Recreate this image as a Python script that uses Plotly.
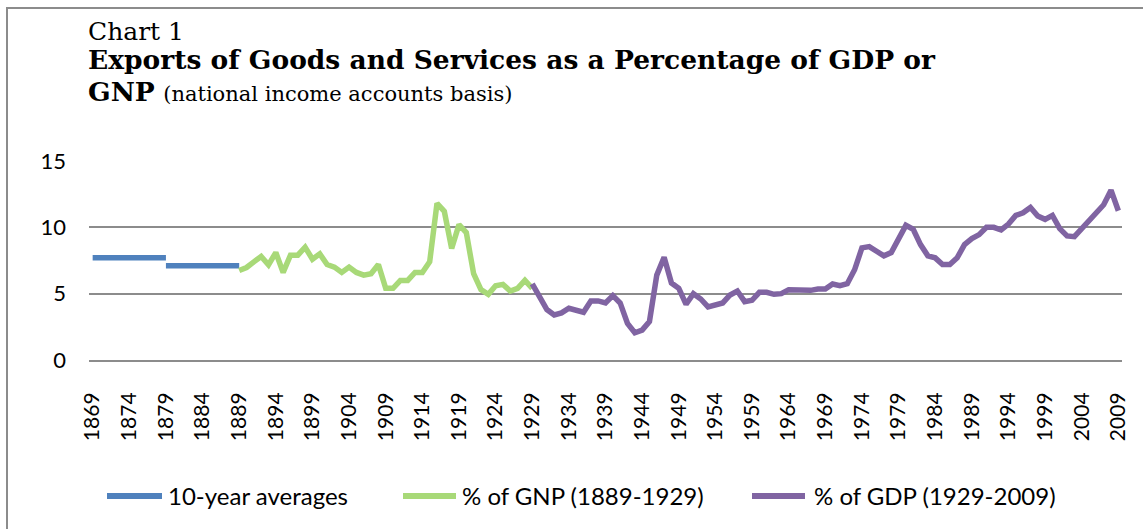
import plotly.graph_objects as go

# ---- data ----
avg_start_years = [1869, 1879]
avg_end_years = [1879, 1889]
avg_values = [7.7, 7.1]

gnp_years = list(range(1889, 1930))
gnp_values = [6.74, 6.97, 7.4, 7.8, 7.17, 8.1, 6.6, 7.9, 7.9, 8.5,
              7.6, 8.0, 7.2, 7.0, 6.6, 7.0, 6.6, 6.4, 6.5, 7.2,
              5.4, 5.4, 6.0, 6.0, 6.6, 6.6, 7.4, 11.8, 11.2, 8.4,
              10.2, 9.6, 6.5, 5.3, 4.95, 5.6, 5.7, 5.2, 5.4, 6.0,
              5.4]

gdp_years = list(range(1929, 2010))
gdp_values = [5.73, 4.8, 3.8, 3.4, 3.55, 3.9, 3.8, 3.6, 4.45, 4.45,
              4.3, 4.85, 4.3, 2.75, 2.05, 2.25, 2.9, 6.4, 7.75, 5.8,
              5.4, 4.2, 5.0, 4.6, 4.0, 4.2, 4.3, 4.9, 5.2, 4.4,
              4.5, 5.1, 5.1, 4.95, 5.0, 5.3, 5.25, 5.25, 5.25, 5.35,
              5.35,
              5.73, 5.6, 5.75, 6.8, 8.45, 8.55, 8.2, 7.85, 8.1, 9.05,
              10.15, 9.85, 8.7, 7.85, 7.7, 7.2, 7.2, 7.7, 8.7, 9.15,
              9.45, 10.0, 10.0, 9.8, 10.25, 10.9, 11.1, 11.5, 10.85, 10.6,
              10.9, 9.9, 9.35, 9.3, 9.9, 10.35, 10.95, 11.7, 12.8, 11.25]

tick_years = list(range(1869, 2010, 5))
y_ticks = [0, 5, 10, 15]

series_names = ["10-year averages", "% of GNP (1889-1929)", "% of GDP (1929-2009)"]
series_colors = ["#4F81BD", "#A8D978", "#8064A2"]

# ---- geometry helpers (pixel -> paper) ----
W, H = 1143, 529
L, R, T, B = 89, 1122, 161, 360
def px(x):
    return (x - L) / (R - L)
def py(y):
    return (B - y) / (B - T)

fig = go.Figure()

# 10-year averages: separate flat segments
avg_x, avg_y = [], []
for s, e, v in zip(avg_start_years, avg_end_years, avg_values):
    avg_x += [s, e, None]
    avg_y += [v, v, None]
fig.add_trace(go.Scatter(x=avg_x, y=avg_y, mode="lines", name=series_names[0],
                         line=dict(color=series_colors[0], width=5.5),
                         connectgaps=False, showlegend=False))
fig.add_trace(go.Scatter(x=gnp_years, y=gnp_values, mode="lines", name=series_names[1],
                         line=dict(color=series_colors[1], width=5.5), showlegend=False))
fig.add_trace(go.Scatter(x=gdp_years, y=gdp_values, mode="lines", name=series_names[2],
                         line=dict(color=series_colors[2], width=5.5), showlegend=False))

grid_col = "#8C8C8C"
fig.update_layout(
    width=W, height=H,
    margin=dict(l=L, r=W - R, t=T, b=H - B, autoexpand=False),
    paper_bgcolor="white", plot_bgcolor="white",
    xaxis=dict(range=[1868.5, 2009.5], tickmode="array", tickvals=tick_years,
               ticktext=[str(t) for t in tick_years], tickangle=-90,
               showgrid=False, zeroline=False, showline=True,
               linecolor=grid_col, linewidth=2, ticks="",
               ticklabelstandoff=22,
               tickfont=dict(family="Lato, sans-serif", size=21, color="#000000")),
    yaxis=dict(range=[0, 15], tickmode="array", tickvals=y_ticks,
               showgrid=True, gridcolor=grid_col, gridwidth=2,
               zeroline=False, showline=False, ticks="",
               ticklabelstandoff=22,
               tickfont=dict(family="Lato, sans-serif", size=22, color="#000000")),
    showlegend=False,
)

shapes = []
# outer frame (extends past right/bottom edges)
shapes.append(dict(type="rect", xref="paper", yref="paper",
                   x0=px(7), x1=px(1160), y0=py(560), y1=py(8),
                   line=dict(color="#8C8C8C", width=2), fillcolor="rgba(0,0,0,0)", layer="below"))

# custom legend
leg_y = py(496)
leg_items = [(107, 162, 166), (403, 456, 460), (752, 805, 812)]
annotations = []
for (x0, x1, xt), name, col in zip(leg_items, series_names, series_colors):
    shapes.append(dict(type="line", xref="paper", yref="paper",
                       x0=px(x0), x1=px(x1), y0=leg_y, y1=leg_y,
                       line=dict(color=col, width=6)))
    annotations.append(dict(xref="paper", yref="paper", x=px(xt), y=leg_y,
                            xanchor="left", yanchor="middle", showarrow=False,
                            text=name, font=dict(family="Lato, sans-serif", size=24, color="#000000")))

serif = "DejaVu Serif, serif"
annotations.append(dict(xref="paper", yref="paper", x=px(86), y=py(31),
                        xanchor="left", yanchor="middle", showarrow=False,
                        text="Chart 1", font=dict(family=serif, size=25, color="#000000")))
annotations.append(dict(xref="paper", yref="paper", x=px(86), y=py(59),
                        xanchor="left", yanchor="middle", showarrow=False,
                        text="<b>Exports of Goods and Services as a Percentage of GDP or</b>",
                        font=dict(family=serif, size=26.5, color="#000000")))
annotations.append(dict(xref="paper", yref="paper", x=px(86), y=py(92),
                        xanchor="left", yanchor="middle", showarrow=False,
                        text="<b>GNP</b> <span style='font-size:21px'>(national income accounts basis)</span>",
                        font=dict(family=serif, size=26.5, color="#000000")))

fig.update_layout(shapes=shapes, annotations=annotations)
fig.write_html("out.html", config={"displayModeBar": False},
               post_script="document.body.style.margin='0';document.body.style.padding='0';")
